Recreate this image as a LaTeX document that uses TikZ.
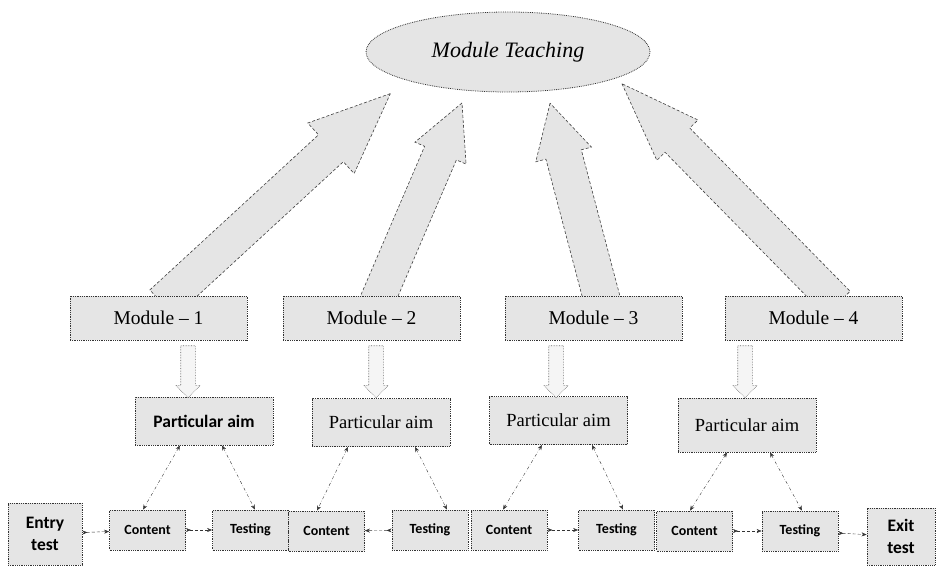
\documentclass[tikz,border=0pt]{standalone}
\usepackage{fontspec}
\setmainfont{Liberation Serif}
\newfontfamily\calibfont{Carlito}
\usetikzlibrary{shapes,arrows,arrows.meta,positioning,backgrounds}
\tikzset{%
    teaching/.style={%
        ellipse, draw=black!80, densely dotted, thick, fill=gray!20, minimum width=284pt, minimum height=80pt, font=\fontsize{22}{24}\selectfont\itshape
    },
    module/.style={%
        rectangle, draw=black!80, densely dotted, thick, fill=gray!20, minimum width=177pt, minimum height=44pt, font=\fontsize{19.5}{22}\selectfont
    },
    aim/.style={%
        rectangle, draw=black!80, densely dotted, thick, fill=gray!20, minimum width=138pt, minimum height=48pt, font=\fontsize{18.5}{22}\selectfont
    },
    stage/.style={%
        rectangle, draw=black!80, densely dotted, thick, fill=gray!20, minimum width=76pt, minimum height=40pt, font=\calibfont\bfseries\fontsize{14}{16}\selectfont
    },
    endtest/.style={%
        rectangle, draw=black!80, densely dotted, thick, fill=gray!20, minimum width=72pt, minimum height=60pt, align=center, font=\calibfont\bfseries\fontsize{17.5}{22}\selectfont
    },
    bigarrow/.style={%
        single arrow, draw=black!75, densely dashed, semithick, fill=gray!20, inner xsep=0pt, anchor=tail
    },
    downarrow/.style={%
        single arrow, draw=black!60, densely dotted, semithick, fill=gray!8, inner xsep=0pt, inner ysep=7pt, anchor=tail, rotate=-90,
        single arrow head extend=5pt, single arrow tip angle=90, minimum height=52pt
    },
    link/.style={%
        >={Stealth[length=5pt,width=4pt]}, >->, densely dashed, gray!40!black
    },
    aimlink/.style={%
        >={Stealth[length=5pt,width=4pt]}, <->, dash dot, gray!40!black
    },
}

\begin{document}
\begin{tikzpicture}[x=1pt,y=-1pt]
    \useasboundingbox (0,0) rectangle (937,567);

    \node[teaching] (teach) at (508,52) {Module Teaching};

    \node[module] (m1) at (158.5,318) {Module -- 1};
    \node[module] (m2) at (371.5,318) {Module -- 2};
    \node[module] (m3) at (593.5,318) {Module -- 3};
    \node[module] (m4) at (813.5,318) {Module -- 4};

    % big arrows up to the ellipse
    \begin{scope}[on background layer]
      \node[bigarrow, rotate=42.6, minimum height=310pt, inner ysep=18pt, single arrow head extend=16pt, single arrow tip angle=46] (up1) at ([xshift=3.5pt,yshift=-8pt]m1.north) {};
      \node[bigarrow, rotate=66.8, minimum height=218pt, inner ysep=17pt, single arrow head extend=10.5pt, single arrow tip angle=54] (up2) at ([xshift=4.5pt,yshift=-8pt]m2.north) {};
      \node[bigarrow, rotate=104.8, minimum height=207pt, inner ysep=18pt, single arrow head extend=10.5pt, single arrow tip angle=57] (up3) at ([xshift=9.5pt,yshift=-8pt]m3.north) {};
      \node[bigarrow, rotate=134.5, minimum height=308pt, inner ysep=17pt, single arrow head extend=11.5pt, single arrow tip angle=40] (up4) at ([xshift=24.5pt,yshift=-8pt]m4.north) {};
    \end{scope}

    \node[aim, font=\calibfont\bfseries\fontsize{17.5}{22}\selectfont] (a1) at (204,421) {Particular aim};
    \node[aim] (a2) at (381,422.5) {Particular aim};
    \node[aim] (a3) at (558.5,420.5) {Particular aim};
    \node[aim, minimum height=54pt] (a4) at (747,425) {Particular aim};

    \node[downarrow] (d1) at ([xshift=29.5pt,yshift=-5pt]m1.south) {};
    \node[downarrow] (d2) at ([xshift=4.5pt,yshift=-5pt]m2.south) {};
    \node[downarrow] (d3) at ([xshift=-37.5pt,yshift=-5pt]m3.south) {};
    \node[downarrow] (d4) at ([xshift=-68.5pt,yshift=-5pt]m4.south) {};

    \node[endtest, minimum width=74pt, minimum height=62pt] (entry) at (45,534) {Entry\\test};
    \node[stage] (c1) at (147.5,530) {Content};
    \node[stage] (t1) at (250.5,530) {Testing};
    \node[stage] (c2) at (326.5,531) {Content};
    \node[stage] (t2) at (430,530) {Testing};
    \node[stage] (c3) at (509,530) {Content};
    \node[stage] (t3) at (616.5,530) {Testing};
    \node[stage] (c4) at (694.5,531) {Content};
    \node[stage] (t4) at (800,531) {Testing};
    \node[endtest, minimum width=68pt, minimum height=57pt] (exit) at (901,536.5) {Exit\\test};

    \draw[link] (entry) -- (c1);
    \draw[link] (c1) -- (t1);
    \draw[link] (t2) -- (c2);
    \draw[link] (c3) -- (t3);
    \draw[link] (c4) -- (t4);
    \draw[link] (t4) -- (exit);

    \draw[aimlink] ([xshift=-24pt]a1.south) -- ([xshift=-4.5pt]c1.north);
    \draw[aimlink] ([xshift=18pt]a1.south) -- ([xshift=4.5pt]t1.north);
    \draw[aimlink] ([xshift=-33pt]a2.south) -- ([xshift=-9.5pt]c2.north);
    \draw[aimlink] ([xshift=34pt]a2.south) -- ([xshift=17pt]t2.north);
    \draw[aimlink] ([xshift=-16.5pt]a3.south) -- ([xshift=-6pt]c3.north);
    \draw[aimlink] ([xshift=33.5pt]a3.south) -- ([xshift=6.5pt]t3.north);
    \draw[aimlink] ([xshift=-20pt]a4.south) -- ([xshift=-4.5pt]c4.north);
    \draw[aimlink] ([xshift=23pt]a4.south) -- ([xshift=2pt]t4.north);
\end{tikzpicture}
\end{document}
